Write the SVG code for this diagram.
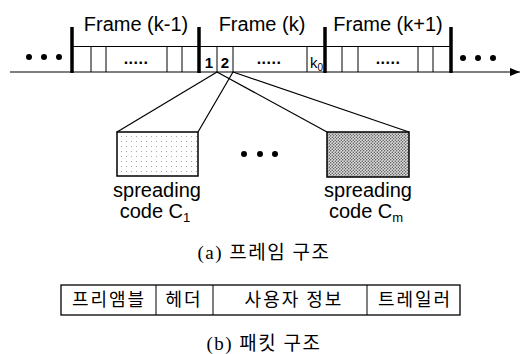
<svg xmlns="http://www.w3.org/2000/svg" width="526" height="354" viewBox="0 0 526 354">
<style>
.ln{stroke:#000;stroke-width:1.2;fill:none}
.bar{stroke:#000;stroke-width:3.5}
.cell{stroke:#000;stroke-width:1}
.t{font-family:"Liberation Sans",Arial,sans-serif;fill:#000}
.ft{font-size:20px;text-anchor:middle}
.sp{font-size:20px;text-anchor:middle}
.dots{font-size:16px;font-weight:bold;text-anchor:middle;letter-spacing:0.5px}
.num{font-size:15px;font-weight:bold;text-anchor:middle}
.kr{font-family:"Noto Sans CJK KR",sans-serif;font-size:18px;fill:#000;text-anchor:middle;letter-spacing:2px}
.cap{font-family:"Liberation Serif","Noto Sans CJK KR",serif;font-size:19px;fill:#000;text-anchor:middle}
.dot{fill:#000}
</style>
<defs>
<pattern id="light" width="5" height="5" patternUnits="userSpaceOnUse">
<rect width="5" height="5" fill="#fff"/>
<circle cx="1.5" cy="1.5" r="0.6" fill="#999"/>
</pattern>
<pattern id="dense" width="3" height="3" patternUnits="userSpaceOnUse">
<rect width="3" height="3" fill="#ddd"/>
<circle cx="0.75" cy="0.75" r="0.7" fill="#444"/>
<circle cx="2.25" cy="2.25" r="0.7" fill="#444"/>
</pattern>
<marker id="arr" viewBox="0 0 10 8" refX="10" refY="4" markerWidth="10" markerHeight="8" markerUnits="userSpaceOnUse" orient="auto">
<path d="M0,0 L10,4 L0,8 Z" fill="#000"/>
</marker>
</defs>
<rect width="526" height="354" fill="#fff"/>

<g id="connectors">
<line class="ln" x1="10" y1="72" x2="520" y2="72" stroke-width="1.5" marker-end="url(#arr)"/>
<line class="ln" x1="217" y1="72" x2="117" y2="132"/>
<line class="ln" x1="233" y1="72" x2="198" y2="132"/>
<line class="ln" x1="217" y1="72" x2="327" y2="132"/>
<line class="ln" x1="233" y1="72" x2="409" y2="132"/>
</g>

<g id="frame-axis">
<line class="cell" x1="72" y1="46.5" x2="451" y2="46.5"/>
<line class="bar" x1="72" y1="27" x2="72" y2="73"/>
<line class="bar" x1="199" y1="27" x2="199" y2="73"/>
<line class="bar" x1="325" y1="27" x2="325" y2="73"/>
<line class="bar" x1="451" y1="27" x2="451" y2="73"/>
</g>

<g id="dots-left">
<circle class="dot" cx="29" cy="57" r="3"/>
<circle class="dot" cx="44" cy="57" r="3"/>
<circle class="dot" cx="59" cy="57" r="3"/>
</g>
<g id="dots-right">
<circle class="dot" cx="463" cy="58" r="3"/>
<circle class="dot" cx="478" cy="58" r="3"/>
<circle class="dot" cx="493" cy="58" r="3"/>
</g>

<g id="frame-k-1">
<text class="t ft" x="136" y="31">Frame (k-1)</text>
<line class="cell" x1="91" y1="47" x2="91" y2="72"/>
<line class="cell" x1="106" y1="47" x2="106" y2="72"/>
<line class="cell" x1="167" y1="47" x2="167" y2="72"/>
<line class="cell" x1="182" y1="47" x2="182" y2="72"/>
<text class="t dots" x="136" y="64">.....</text>
</g>

<g id="frame-k">
<text class="t ft" x="262" y="31">Frame (k)</text>
<line class="cell" x1="217" y1="47" x2="217" y2="72"/>
<line class="cell" x1="233" y1="47" x2="233" y2="72"/>
<line class="cell" x1="307" y1="47" x2="307" y2="72"/>
<text class="t num" x="209" y="68">1</text>
<text class="t num" x="225" y="68">2</text>
<text class="t dots" x="269" y="64">.....</text>
<text class="t" x="310" y="68" font-size="15">k<tspan font-size="10" dy="3">0</tspan></text>
</g>

<g id="frame-k1">
<text class="t ft" x="388" y="31">Frame (k+1)</text>
<line class="cell" x1="342" y1="47" x2="342" y2="72"/>
<line class="cell" x1="358" y1="47" x2="358" y2="72"/>
<line class="cell" x1="418" y1="47" x2="418" y2="72"/>
<line class="cell" x1="433" y1="47" x2="433" y2="72"/>
<text class="t dots" x="388" y="64">.....</text>
</g>

<g id="code-c1">
<rect x="117" y="132" width="81" height="44" fill="url(#light)" stroke="#000" stroke-width="1.5"/>
<text class="t sp" x="157" y="197">spreading</text>
<text class="t sp" x="155" y="218">code C<tspan font-size="13" dy="4">1</tspan></text>
</g>

<g id="dots-mid">
<circle class="dot" cx="244" cy="154" r="3"/>
<circle class="dot" cx="260" cy="154" r="3"/>
<circle class="dot" cx="275" cy="154" r="3"/>
</g>

<g id="code-cm">
<rect x="327" y="132" width="82" height="45" fill="url(#dense)" stroke="#000" stroke-width="1.5"/>
<text class="t sp" x="368" y="197">spreading</text>
<text class="t sp" x="366" y="218">code C<tspan font-size="13" dy="4">m</tspan></text>
</g>

<g id="caption-a">
<text class="cap" x="264" y="259" letter-spacing="1.5">(a) 프레임 구조</text>
</g>

<g id="packet">
<rect x="61" y="285" width="399" height="30" fill="none" stroke="#000" stroke-width="1.3"/>
<line class="cell" x1="156" y1="285" x2="156" y2="315"/>
<line class="cell" x1="213" y1="285" x2="213" y2="315"/>
<line class="cell" x1="367" y1="285" x2="367" y2="315"/>
<text class="kr" x="109" y="306">프리앰블</text>
<text class="kr" x="184" y="306">헤더</text>
<text class="kr" x="294" y="306">사용자 정보</text>
<text class="kr" x="415" y="306">트레일러</text>
</g>

<g id="caption-b">
<text class="cap" x="264" y="350" letter-spacing="1.5">(b) 패킷 구조</text>
</g>
</svg>
